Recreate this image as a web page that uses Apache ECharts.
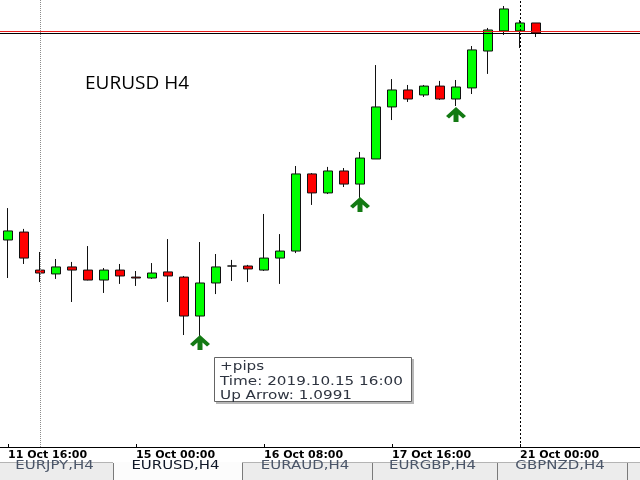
<!DOCTYPE html>
<html>
<head>
<meta charset="utf-8">
<script src="https://cdn.jsdelivr.net/npm/echarts@6/dist/echarts.min.js"></script>
<style>
  html, body { margin: 0; padding: 0; background: #ffffff; }
  #chart { width: 640px; height: 480px; }
</style>
</head>
<body>
<div id="chart"></div>
<script>
// ---- data (EURUSD H4) ----
var times = [
  '2019.10.11 16:00','2019.10.11 20:00',
  '2019.10.14 00:00','2019.10.14 04:00','2019.10.14 08:00','2019.10.14 12:00','2019.10.14 16:00','2019.10.14 20:00',
  '2019.10.15 00:00','2019.10.15 04:00','2019.10.15 08:00','2019.10.15 12:00','2019.10.15 16:00','2019.10.15 20:00',
  '2019.10.16 00:00','2019.10.16 04:00','2019.10.16 08:00','2019.10.16 12:00','2019.10.16 16:00','2019.10.16 20:00',
  '2019.10.17 00:00','2019.10.17 04:00','2019.10.17 08:00','2019.10.17 12:00','2019.10.17 16:00','2019.10.17 20:00',
  '2019.10.18 00:00','2019.10.18 04:00','2019.10.18 08:00','2019.10.18 12:00','2019.10.18 16:00','2019.10.18 20:00',
  '2019.10.21 00:00','2019.10.21 04:00'
];
var opens  = [1.10452,1.10495,1.10289,1.10268,1.10306,1.10289,1.10235,1.10289,1.10251,1.10246,1.10279,1.10251,1.10040,1.10219,1.10311,1.10311,1.10289,1.10354,1.10392,1.10810,1.10707,1.10826,1.10755,1.10891,1.11173,1.11265,1.11238,1.11286,1.11216,1.11276,1.11476,1.11585,1.11585,1.11628];
var closes = [1.10501,1.10354,1.10273,1.10306,1.10289,1.10235,1.10289,1.10257,1.10246,1.10273,1.10257,1.10040,1.10219,1.10306,1.10311,1.10295,1.10354,1.10392,1.10810,1.10707,1.10826,1.10755,1.10896,1.11173,1.11265,1.11216,1.11286,1.11216,1.11281,1.11482,1.11590,1.11704,1.11628,1.11574];
var lows   = [1.10246,1.10322,1.10224,1.10241,1.10116,1.10233,1.10165,1.10214,1.10203,1.10241,1.10116,1.09937,1.09921,1.10159,1.10230,1.10224,1.10284,1.10214,1.10381,1.10642,1.10701,1.10739,1.10680,1.10891,1.11102,1.11200,1.11227,1.11211,1.11178,1.11243,1.11352,1.11563,1.11492,1.11552];
var highs  = [1.10625,1.10512,1.10387,1.10349,1.10333,1.10419,1.10300,1.10322,1.10284,1.10327,1.10457,1.10257,1.10441,1.10376,1.10344,1.10317,1.10593,1.10484,1.10853,1.10815,1.10848,1.10842,1.10929,1.11400,1.11324,1.11292,1.11292,1.11314,1.11319,1.11503,1.11601,1.11720,1.11644,1.11628];
var arrowBars   = [12, 22, 28];
var arrowPrices = [1.09937, 1.10685, 1.11173];
var askPrice = 1.11582;
var bidPrice = 1.11571;
var tickLabels = ['11 Oct 16:00','15 Oct 00:00','16 Oct 08:00','17 Oct 16:00','21 Oct 00:00'];
var tickStep = 8;
var separatorBars = [2, 32];
var shiftBars = 6;
var priceMin = 1.093302, priceMax = 1.117525;
var tabs = ['EURJPY,H4','EURUSD,H4','EURAUD,H4','EURGBP,H4','GBPNZD,H4'];
var activeTab = 1;
var tooltipLines = ['+pips','Time: 2019.10.15 16:00','Up Arrow: 1.0991'];

// ---- build ----
var categories = times.slice();
for (var s = 0; s < shiftBars; s++) categories.push('');
var ohlc = opens.map(function (o, i) { return [o, closes[i], lows[i], highs[i]]; });
var arrows = arrowBars.map(function (b, i) { return [b, arrowPrices[i]]; });

var tabEdges = [0, 113, 242, 372, 497, 627];
var graphics = [];
// tab bar
graphics.push({ type: 'rect', shape: { x: 0, y: 462, width: 640, height: 18 }, style: { fill: '#ececec' }, silent: true });
graphics.push({ type: 'line', shape: { x1: 0, y1: 462.5, x2: 640, y2: 462.5 }, style: { stroke: '#b4b4b4', lineWidth: 1 }, silent: true });
tabs.forEach(function (t, i) {
  var x0 = tabEdges[i], x1 = tabEdges[i + 1];
  if (i === activeTab) {
    graphics.push({ type: 'rect', shape: { x: x0, y: 462, width: x1 - x0, height: 18 }, style: { fill: '#fcfcfc' }, silent: true });
  }
  graphics.push({ type: 'line', shape: { x1: x1 + 0.5, y1: 463, x2: x1 + 0.5, y2: 480 }, style: { stroke: '#7a7a7a', lineWidth: 1 }, silent: true });
  graphics.push({
    type: 'text', x: (x0 + x1) / 2 - 2, y: 466.5, scaleX: 1.3, silent: true,
    style: { text: t, fontFamily: 'DejaVu Sans', fontSize: 11.5, fill: i === activeTab ? '#101828' : '#4a5568', align: 'center', verticalAlign: 'middle' }
  });
});
graphics.push({ type: 'line', shape: { x1: 113.5, y1: 463, x2: 113.5, y2: 480 }, style: { stroke: '#7a7a7a', lineWidth: 1 }, silent: true });
// chart label
graphics.push({
  type: 'text', x: 85, y: 84, silent: true,
  style: { text: 'EURUSD H4', fontFamily: 'Open Sans', fontSize: 19, fill: '#000000', align: 'left', verticalAlign: 'middle' }
});
// tooltip box
graphics.push({ type: 'rect', shape: { x: 216, y: 359, width: 198, height: 45 }, style: { fill: '#b8b8b8' }, silent: true });
graphics.push({ type: 'rect', shape: { x: 214.5, y: 357.5, width: 197, height: 44 }, style: { fill: '#ffffff', stroke: '#646464', lineWidth: 1 }, silent: true });
tooltipLines.forEach(function (l, i) {
  graphics.push({
    type: 'text', x: 220, y: 367 + i * 14.5, scaleX: 1.17, silent: true,
    style: { text: l, fontFamily: 'DejaVu Sans', fontSize: 13, fill: '#2e3440', align: 'left', verticalAlign: 'middle' }
  });
});

var chart = echarts.init(document.getElementById('chart'), null, { renderer: 'canvas' });
chart.setOption({
  backgroundColor: '#ffffff',
  animation: false,
  grid: { left: -2, top: 0, width: 646, height: 447 },
  xAxis: {
    type: 'category',
    data: categories,
    boundaryGap: true,
    axisLine: { show: true, onZero: false, lineStyle: { color: '#000000', width: 1 } },
    axisTick: {
      show: true, inside: true, length: 3, alignWithLabel: true,
      interval: function (i) { return i % tickStep === 0 && i < times.length; },
      lineStyle: { color: '#000000' }
    },
    axisLabel: {
      show: true, align: 'left', margin: 3,
      interval: function (i) { return i % tickStep === 0 && i < times.length; },
      formatter: function (v, i) { return tickLabels[i / tickStep] || ''; },
      fontFamily: 'DejaVu Sans', fontWeight: 'bold', fontSize: 11, color: '#000000'
    },
    splitLine: { show: false }
  },
  yAxis: {
    type: 'value', min: priceMin, max: priceMax, show: false, splitLine: { show: false }
  },
  series: [
    {
      type: 'candlestick',
      data: ohlc,
      barWidth: 10,
      itemStyle: { color: '#00ff00', color0: '#ff0000', borderColor: '#111111', borderColor0: '#111111', borderWidth: 1 }
    },
    {
      type: 'scatter',
      data: arrows,
      symbol: 'path://M10,0 L20,9 L17,11.5 L12.5,7.5 L12.5,15 L7.5,15 L7.5,7.5 L3,11.5 L0,9 Z',
      symbolSize: [20, 15],
      symbolKeepAspect: false,
      symbolOffset: [0, 7.5],
      itemStyle: { color: '#137a13', opacity: 1 },
      z: 5,
      silent: true,
      markLine: {
        silent: true, symbol: ['none', 'none'], label: { show: false }, animation: false,
        precision: 6,
        data: [
          { yAxis: askPrice, lineStyle: { color: '#e81c1c', type: 'solid', width: 1 } },
          { yAxis: bidPrice, lineStyle: { color: '#000000', type: 'solid', width: 1 } },
          { xAxis: separatorBars[0], lineStyle: { color: '#8c8c8c', type: [1, 1], width: 1 } },
          { xAxis: separatorBars[1], lineStyle: { color: '#000000', type: [2, 2], width: 1 } }
        ]
      }
    }
  ],
  graphic: { elements: graphics }
});
</script>
</body>
</html>
